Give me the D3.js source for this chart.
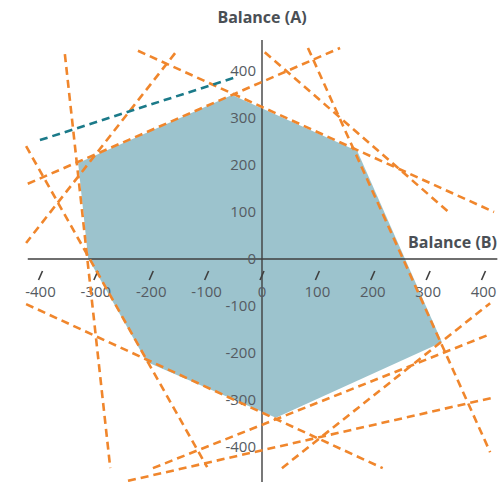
<!DOCTYPE html>
<html>
<head>
<meta charset="utf-8">
<script src="https://cdn.jsdelivr.net/npm/d3@7"></script>
<style>
  html, body { margin: 0; padding: 0; background: #fff; }
  svg { display: block; }
  text { font-family: "Open Sans", "Noto Sans", sans-serif; }
</style>
</head>
<body>
<svg id="chart" width="500" height="482"></svg>
<script>
// Tick values on both axes
const xTicks = [-400, -300, -200, -100, 0, 100, 200, 300, 400];
const yTicks = [-400, -300, -200, -100, 0, 100, 200, 300, 400];

// Feasible region (Balance B, Balance A) vertices
const regionB = [-54, 172, 325, 25, -208, -314, -332];
const regionA = [349, 230, -177, -338, -219, 2, 204];

// Constraint lines: start and end points (B, A)
const lineStartB = [-157, -224, -423, -356, -426, -426, -197, 36, -242, 83, 5];
const lineStartA = [438, 443, 160, 436, 240, -96, -445, -445, -472, 449, 440];
const lineEndB   = [-426, 419, 141, -274, -99, 218, 412, 412, 421, 412, 339];
const lineEndA   = [34, 100, 449, -445, -443, -445, -160, -94, -294, -411, 98];

// Highlighted line (B, A)
const highlightB = [-401, -52];
const highlightA = [253, 385];

const svg = d3.select("#chart");

const x = d3.scaleLinear().domain([-400, 400]).range([40.5, 483.5]);
const y = d3.scaleLinear().domain([-400, 400]).range([447, 71]);

const inkColor = "#3f3f3f";
const labelColor = "#555b62";
const orange = "#f0862c";
const teal = "#1b7a89";

// Region fill
const regionPts = regionB.map((b, i) => [x(b), y(regionA[i])]);
svg.append("path")
  .attr("d", d3.line()(regionPts) + "Z")
  .attr("fill", "#9cc3cd");

// Axis lines
svg.append("line")
  .attr("x1", x(-423)).attr("x2", x(425))
  .attr("y1", y(0)).attr("y2", y(0))
  .attr("stroke", inkColor).attr("stroke-width", 1.4);
svg.append("line")
  .attr("x1", x(0)).attr("x2", x(0))
  .attr("y1", y(466)).attr("y2", 482)
  .attr("stroke", inkColor).attr("stroke-width", 1.4);

// X axis: slanted tick marks and labels
const xg = svg.append("g");
xTicks.forEach(t => {
  const px = x(t);
  xg.append("line")
    .attr("x1", px - 2).attr("y1", y(0) + 21)
    .attr("x2", px + 2).attr("y2", y(0) + 12)
    .attr("stroke", inkColor).attr("stroke-width", 1.6);
  xg.append("text")
    .attr("x", px).attr("y", y(0) + 38)
    .attr("text-anchor", "middle")
    .attr("font-size", 15)
    .attr("fill", labelColor)
    .text(t);
});

// Y axis labels
const yg = svg.append("g");
yTicks.forEach(t => {
  yg.append("text")
    .attr("x", x(0) - 6).attr("y", y(t))
    .attr("dy", "0.36em")
    .attr("text-anchor", "end")
    .attr("font-size", 15)
    .attr("fill", labelColor)
    .text(t);
});

// Constraint lines
lineStartB.forEach((b, i) => {
  svg.append("line")
    .attr("x1", x(b)).attr("y1", y(lineStartA[i]))
    .attr("x2", x(lineEndB[i])).attr("y2", y(lineEndA[i]))
    .attr("stroke", orange)
    .attr("stroke-width", 2.6)
    .attr("stroke-dasharray", "8,5");
});

svg.append("line")
  .attr("x1", x(highlightB[0])).attr("y1", y(highlightA[0]))
  .attr("x2", x(highlightB[1])).attr("y2", y(highlightA[1]))
  .attr("stroke", teal)
  .attr("stroke-width", 2.6)
  .attr("stroke-dasharray", "8,5");

// Axis titles
svg.append("text")
  .attr("x", x(0)).attr("y", 23)
  .attr("text-anchor", "middle")
  .attr("font-size", 16).attr("font-weight", "bold")
  .attr("fill", "#4a4f55")
  .text("Balance (A)");
svg.append("text")
  .attr("x", 497).attr("y", 248)
  .attr("text-anchor", "end")
  .attr("font-size", 16).attr("font-weight", "bold")
  .attr("fill", "#4a4f55")
  .text("Balance (B)");
</script>
</body>
</html>
